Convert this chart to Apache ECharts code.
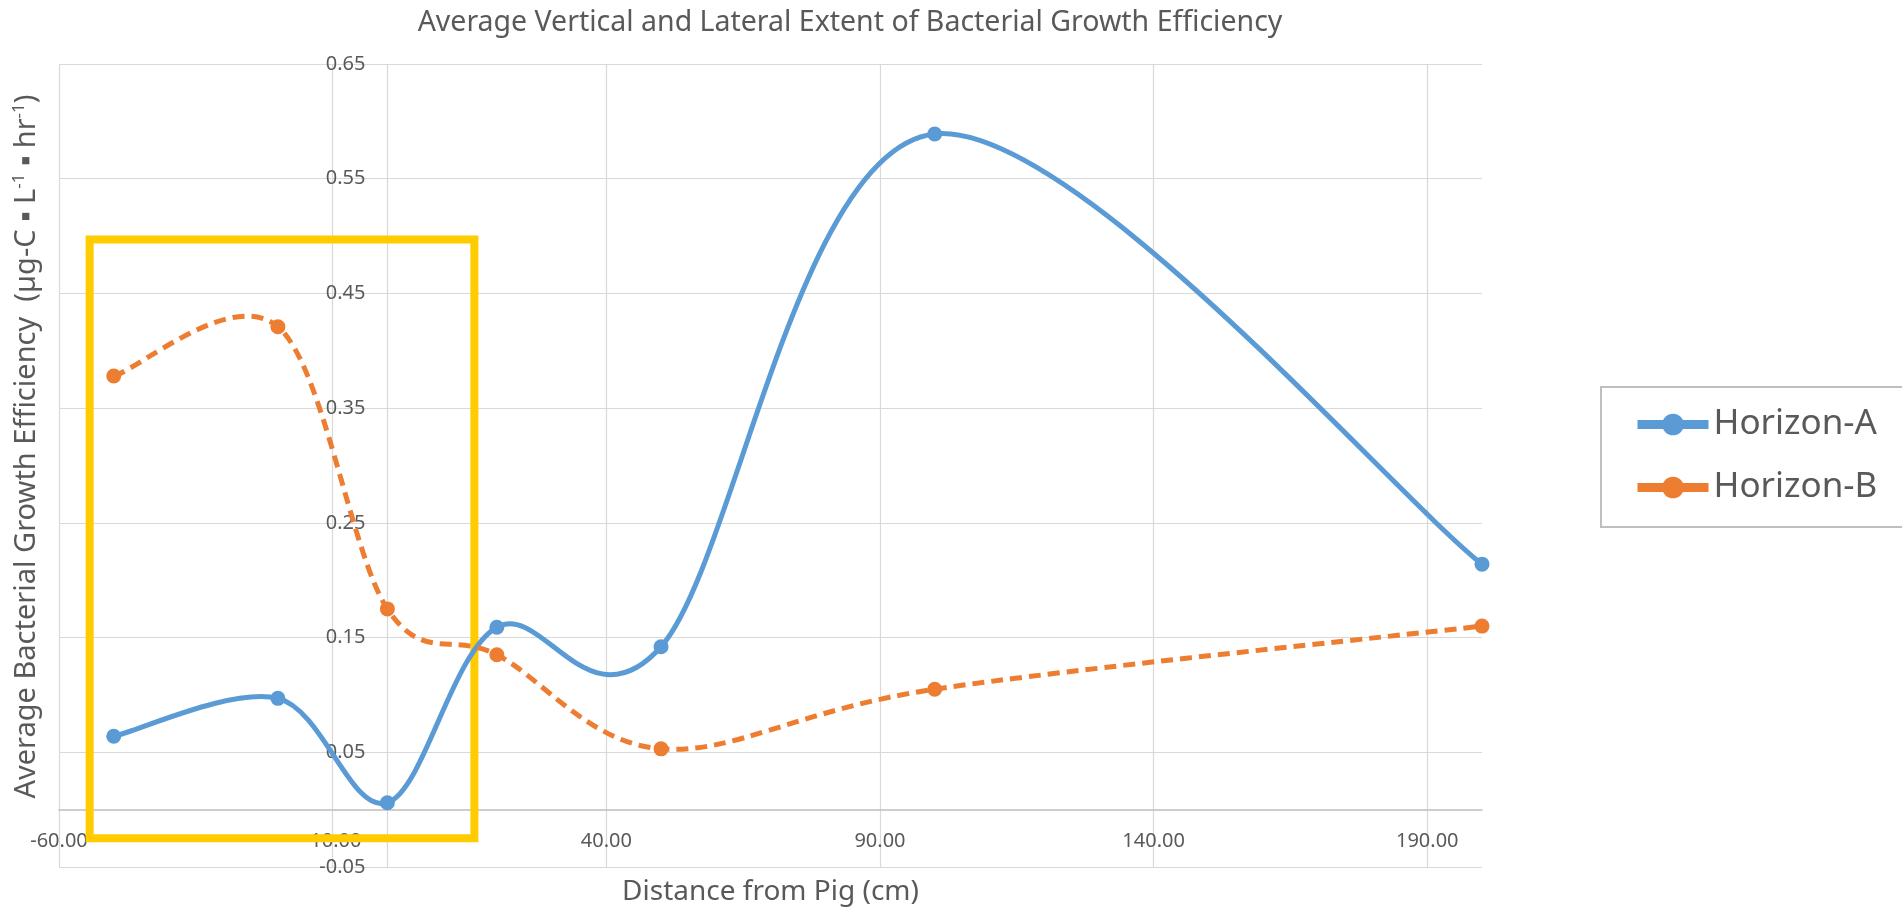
<!DOCTYPE html>
<html>
<head>
<meta charset="utf-8">
<script src="https://cdn.jsdelivr.net/npm/echarts@6/dist/echarts.min.js"></script>
<style>
html,body{margin:0;padding:0;background:#fff;}
#chart{width:1902px;height:911px;}
</style>
</head>
<body>
<div id="chart"></div>
<script>
// ---- data ----
const distances = [-50, -20, 0, 20, 50, 100, 200];
const horizonA = [0.064, 0.097, 0.006, 0.159, 0.142, 0.589, 0.214];
const horizonB = [0.378, 0.421, 0.175, 0.135, 0.053, 0.105, 0.160];
const seriesNames = ['Horizon-A', 'Horizon-B'];
const titleText = 'Average Vertical and Lateral Extent of Bacterial Growth Efficiency';
const xAxisTitle = 'Distance from Pig (cm)';
const yAxisTitle = 'Average Bacterial Growth Efficiency  (µg-C ▪ L{sup|-1} ▪ hr{sup|-1})';
const xRange = [-60, 200];
const xStep = 50;
const yRange = [-0.05, 0.65];
const yStep = 0.1;
// highlighted region (data space)
const boxX = [-54.4, 15.9];
const boxY = [-0.025, 0.497];

// ---- layout ----
const W = 1902, H = 911;
const gridLeft = 59, gridRight = 420, gridTop = 64, gridBottom = 44;
const plotW = W - gridLeft - gridRight;
const plotH = H - gridTop - gridBottom;
// axes cross at zero (as in the original): shift each axis onto the other's zero
const yAxisOffset = -((0 - xRange[0]) / (xRange[1] - xRange[0])) * plotW;
const xAxisOffset = -((0 - yRange[0]) / (yRange[1] - yRange[0])) * plotH;

const pairs = (xs, ys) => xs.map((x, i) => [x, ys[i]]);

// Smoothed curve (Catmull-Rom style, like the spreadsheet's smoothed line),
// built from data points mapped through the chart's own axes.
function smoothCurve(xs, ys, style) {
  return function (params, api) {
    const p = xs.map((x, i) => api.coord([x, ys[i]]));
    const n = p.length;
    let d = 'M' + p[0][0] + ' ' + p[0][1];
    for (let i = 0; i < n - 1; i++) {
      const p0 = p[Math.max(i - 1, 0)], p1 = p[i], p2 = p[i + 1], p3 = p[Math.min(i + 2, n - 1)];
      const c1 = [p1[0] + (p2[0] - p0[0]) / 6, p1[1] + (p2[1] - p0[1]) / 6];
      const c2 = [p2[0] - (p3[0] - p1[0]) / 6, p2[1] - (p3[1] - p1[1]) / 6];
      d += ' C' + c1[0] + ' ' + c1[1] + ' ' + c2[0] + ' ' + c2[1] + ' ' + p2[0] + ' ' + p2[1];
    }
    return {
      type: 'path',
      shape: {pathData: d},
      style: Object.assign({fill: null}, style)
    };
  };
}

const chart = echarts.init(document.getElementById('chart'), null, {renderer: 'canvas'});
const textColor = '#595959';
const font = '"Noto Sans", "Open Sans", sans-serif';
const blue = '#5B9BD5', orange = '#ED7D31';

const option = {
  backgroundColor: '#ffffff',
  animation: false,
  title: {
    text: titleText,
    left: 850,
    textAlign: 'center',
    top: 8,
    padding: 0,
    textStyle: {fontFamily: font, fontSize: 28.5, fontWeight: 'normal', color: textColor}
  },
  grid: {left: gridLeft, right: gridRight, top: gridTop, bottom: gridBottom, containLabel: false, outerBoundsMode: 'none'},
  legend: {
    left: 1601,
    top: 387,
    orient: 'vertical',
    padding: [20, 40, 22, 32],
    itemGap: 28,
    itemWidth: 71,
    itemHeight: 27,
    borderColor: '#BFBFBF',
    borderWidth: 2,
    backgroundColor: '#fff',
    textStyle: {fontFamily: font, fontSize: 35, color: textColor},
    lineStyle: {width: 9, type: 'solid', opacity: 1},
    data: seriesNames
  },
  xAxis: {
    type: 'value',
    min: xRange[0],
    max: xRange[1],
    interval: xStep,
    offset: xAxisOffset,
    name: xAxisTitle,
    nameLocation: 'middle',
    nameGap: 68,
    nameTextStyle: {fontFamily: font, fontSize: 28, color: textColor},
    axisLine: {onZero: false, lineStyle: {color: '#BFBFBF', width: 1.5}},
    axisTick: {show: false},
    axisLabel: {
      fontFamily: font, fontSize: 20, color: textColor, margin: 22,
      showMaxLabel: false,
      formatter: v => v.toFixed(2)
    },
    splitLine: {show: true, showMaxLine: false, lineStyle: {color: '#D9D9D9', width: 1.2}}
  },
  yAxis: {
    type: 'value',
    min: yRange[0],
    max: yRange[1],
    interval: yStep,
    offset: yAxisOffset,
    name: yAxisTitle,
    nameLocation: 'middle',
    nameRotate: 90,
    nameGap: 345,
    nameTextStyle: {
      fontFamily: font, fontSize: 29, color: textColor, lineHeight: 32,
      padding: [0, 0, 0, 38],
      rich: {
        sup: {fontFamily: font, fontSize: 17, color: textColor, lineHeight: 32, verticalAlign: 'top', padding: [0, 0, 8, 0]}
      }
    },
    axisLine: {show: true, onZero: false, lineStyle: {color: '#D9D9D9', width: 1.2}},
    axisTick: {show: false},
    axisLabel: {
      fontFamily: font, fontSize: 20, color: textColor, margin: 22,
      formatter: v => v.toFixed(2)
    },
    splitLine: {show: true, lineStyle: {color: '#D9D9D9', width: 1.2}}
  },
  series: [
    {
      name: seriesNames[0] + ' curve',
      type: 'custom',
      coordinateSystem: 'cartesian2d',
      silent: true,
      z: 3,
      data: [[distances[0], horizonA[0]]],
      renderItem: smoothCurve(distances, horizonA, {stroke: blue, lineWidth: 5, lineCap: 'round', lineJoin: 'round'}),
      markArea: {
        silent: true,
        itemStyle: {color: 'rgba(0,0,0,0)', borderColor: '#FFCC00', borderWidth: 8},
        data: [[{coord: [boxX[0], boxY[1]]}, {coord: [boxX[1], boxY[0]]}]]
      }
    },
    {
      name: seriesNames[1] + ' curve',
      type: 'custom',
      coordinateSystem: 'cartesian2d',
      silent: true,
      z: 3,
      data: [[distances[0], horizonB[0]]],
      renderItem: smoothCurve(distances, horizonB, {stroke: orange, lineWidth: 5, lineCap: 'butt', lineJoin: 'round', lineDash: [12, 7]})
    },
    {
      name: seriesNames[0],
      type: 'line',
      data: pairs(distances, horizonA),
      symbol: 'circle',
      symbolSize: 15,
      color: blue,
      lineStyle: {width: 5, color: blue, opacity: 0},
      itemStyle: {color: blue},
      z: 4
    },
    {
      name: seriesNames[1],
      type: 'line',
      data: pairs(distances, horizonB),
      symbol: 'circle',
      symbolSize: 15,
      color: orange,
      lineStyle: {width: 5, color: orange, opacity: 0},
      itemStyle: {color: orange},
      z: 4
    }
  ]
};
chart.setOption(option);
</script>
</body>
</html>
